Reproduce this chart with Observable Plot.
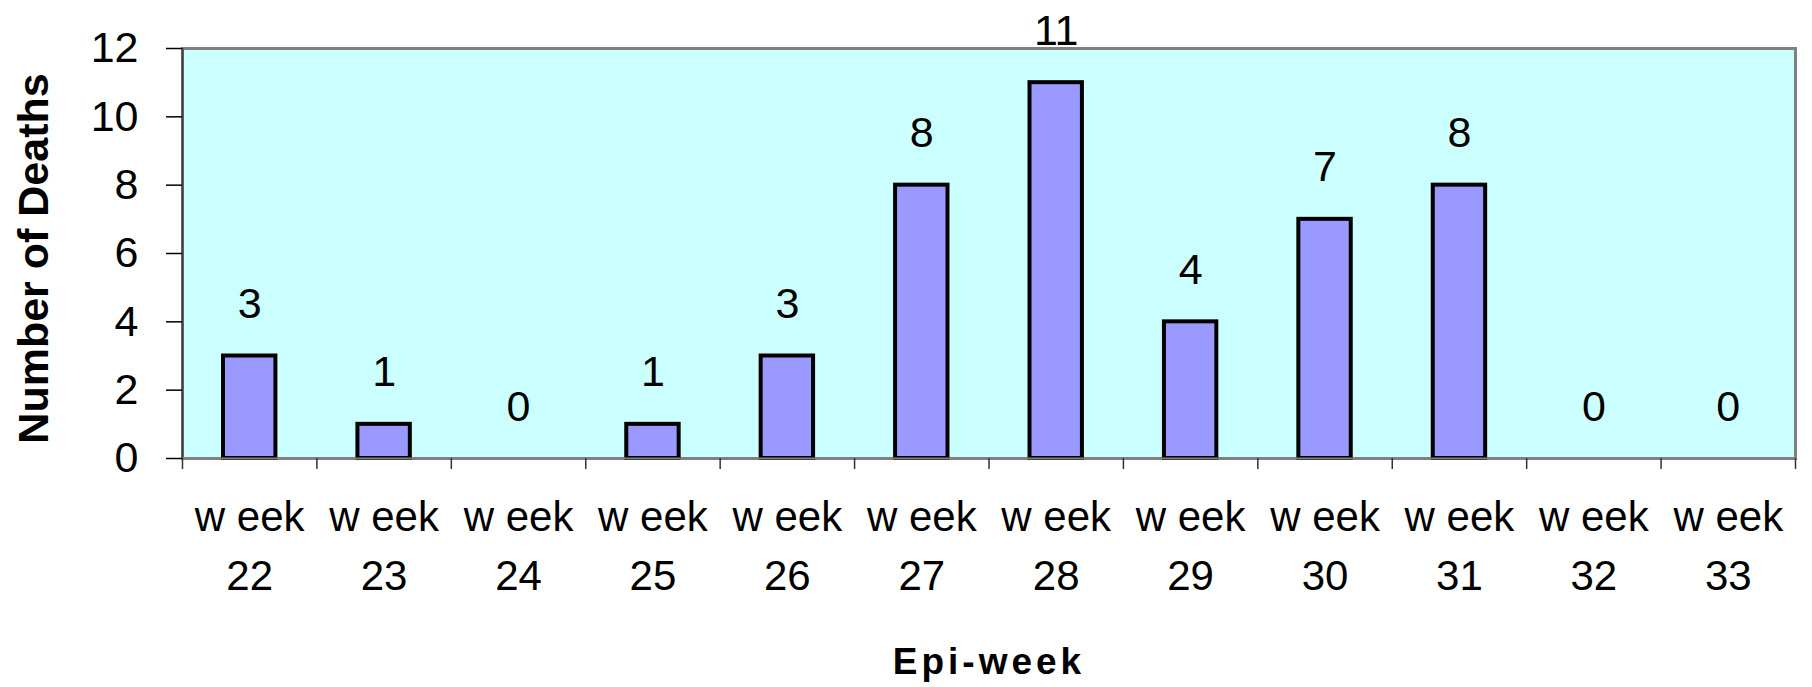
<!DOCTYPE html>
<html>
<head>
<meta charset="utf-8">
<script src="https://cdn.jsdelivr.net/npm/d3@7"></script>
<script src="https://cdn.jsdelivr.net/npm/@observablehq/plot@0.6"></script>
<style>
  html, body { margin: 0; padding: 0; background: #ffffff; }
</style>
</head>
<body>
<div id="chart"></div>
<script>
const weeks = [22, 23, 24, 25, 26, 27, 28, 29, 30, 31, 32, 33];
const deaths = [3, 1, 0, 1, 3, 8, 11, 4, 7, 8, 0, 0];
const yTicks = [0, 2, 4, 6, 8, 10, 12];
const xLabel = "Epi-week";
const yLabel = "Number of Deaths";

const data = weeks.map((w, i) => ({week: w, deaths: deaths[i]}));
const bounds = weeks.map(w => w - 0.5).concat([weeks[weeks.length - 1] + 0.5]);
const font = "'Liberation Sans', Arial, sans-serif";

const chart = Plot.plot({
  width: 1812,
  height: 687,
  marginLeft: 182,
  marginRight: 17,
  marginTop: 48,
  marginBottom: 229,
  style: {fontFamily: font, background: "#ffffff", color: "#000"},
  x: {type: "linear", domain: [bounds[0], bounds[bounds.length - 1]]},
  y: {domain: [0, 12]},
  marks: [
    Plot.frame({fill: "#CCFFFF", stroke: "#808080", strokeWidth: 3}),
    Plot.ruleX([bounds[0]], {stroke: "#404040", strokeWidth: 2}),
    Plot.rectY(data.filter(d => d.deaths > 0), {
      x1: d => d.week - 0.5, x2: d => d.week + 0.5, y1: 0, y2: "deaths",
      insetLeft: 41, insetRight: 41,
      fill: "#9999FF", stroke: "#000", strokeWidth: 4
    }),
    Plot.ruleY([0], {stroke: "#808080", strokeWidth: 2}),
    Plot.text(data, {
      x: "week", y: "deaths", text: d => String(d.deaths),
      lineAnchor: "bottom", dy: -38, fontSize: 43, fill: "#000"
    }),
    Plot.axisY({
      ticks: yTicks, tickSize: 16, tickPadding: 28, fontSize: 43,
      stroke: "#000", strokeWidth: 1.5, label: null, fill: "#000"
    }),
    Plot.axisX({
      ticks: bounds, tickSize: 11, tickFormat: () => "", label: null,
      stroke: "#333", strokeWidth: 1.5
    }),
    Plot.text(weeks, {
      x: d => d, frameAnchor: "bottom", text: d => `w eek\n${d}`,
      lineAnchor: "top", lineHeight: 1.42, dy: 30, fontSize: 42, fill: "#000"
    }),
    Plot.text([xLabel], {
      frameAnchor: "bottom", text: d => d, lineAnchor: "bottom", textAnchor: "middle",
      dy: 215, fontSize: 37, fontWeight: "bold", fill: "#000"
    }),
    Plot.text([yLabel], {
      frameAnchor: "left", text: d => d, rotate: -90, lineAnchor: "bottom", textAnchor: "middle",
      dx: -135, dy: 5, fontSize: 43, fontWeight: "bold", fill: "#000"
    })
  ]
});
d3.select(chart).selectAll("text")
  .filter(function () { return this.textContent === xLabel; })
  .attr("letter-spacing", 4);
document.getElementById("chart").appendChild(chart);
</script>
</body>
</html>
